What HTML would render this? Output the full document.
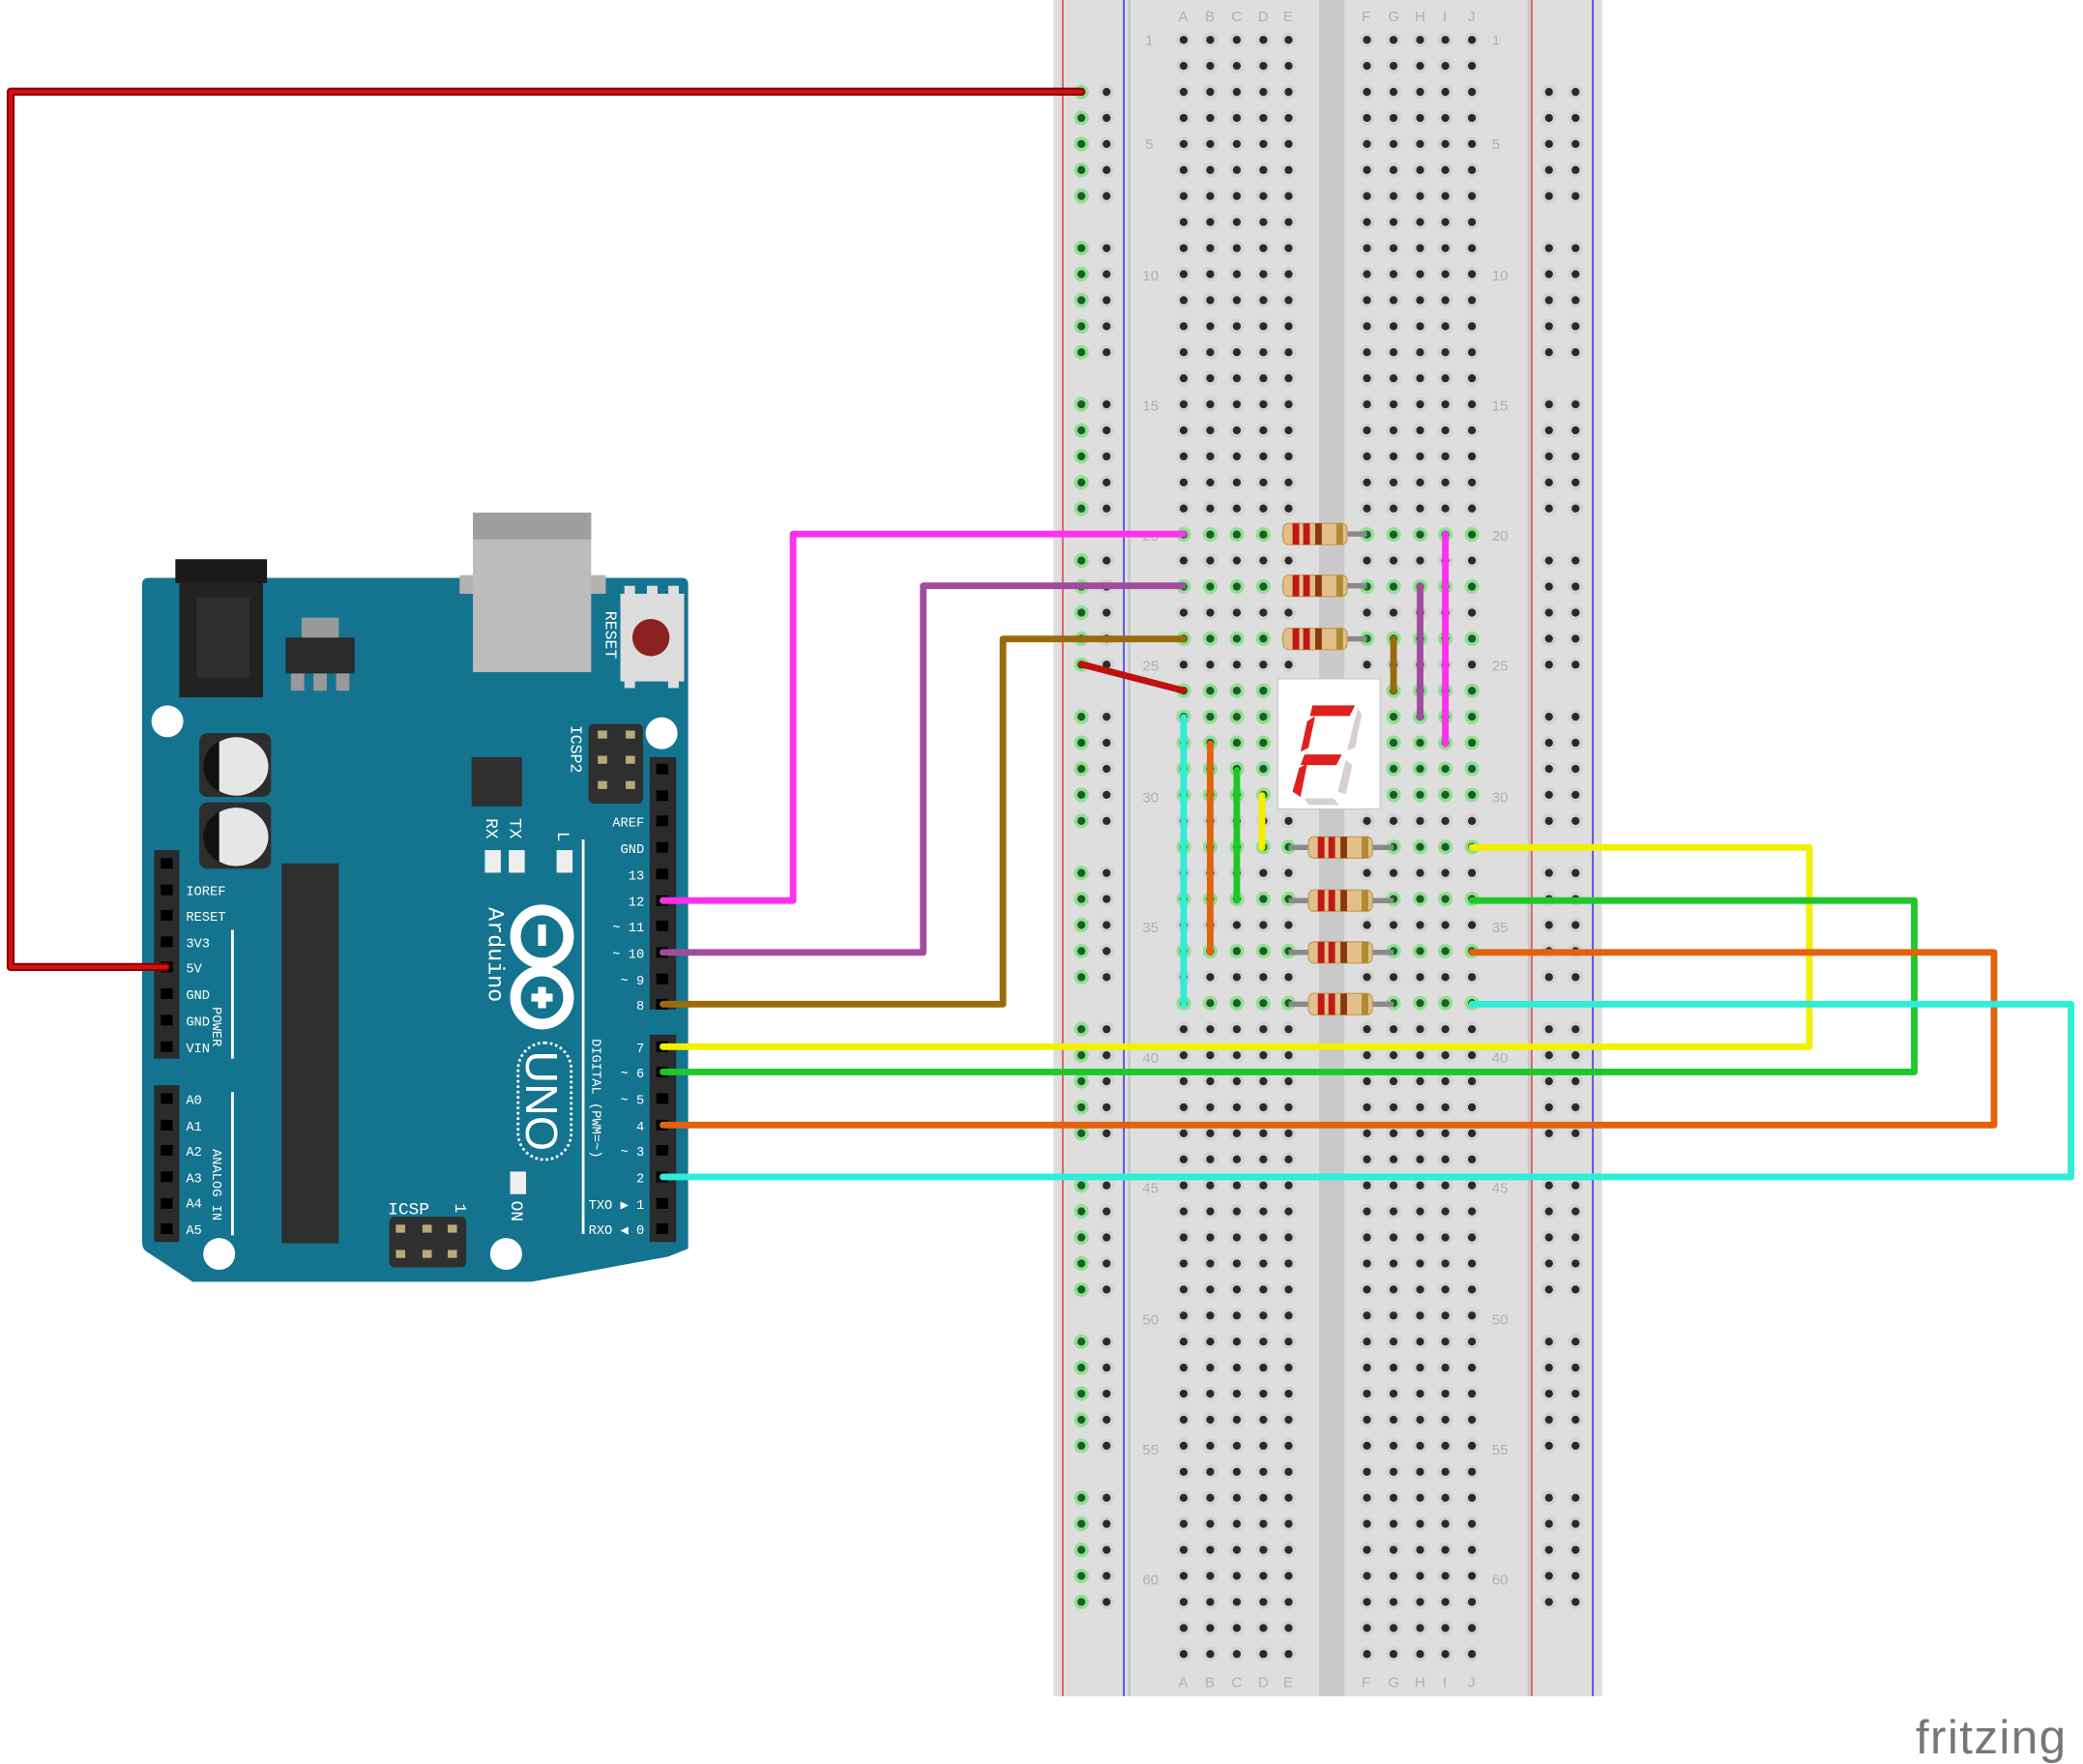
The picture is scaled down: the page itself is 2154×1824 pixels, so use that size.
<!DOCTYPE html>
<html><head><meta charset="utf-8">
<style>
html,body{margin:0;padding:0;background:#fff;}
svg{display:block;}
.t{font-family:"Liberation Mono","DejaVu Sans Mono",monospace;fill:#fff;font-size:10px;}
.bl{font-family:"Liberation Sans",sans-serif;fill:#b0b0b0;font-size:11px;}
</style></head><body>
<svg id="s" width="2154" height="1824" viewBox="0 0 1568 1328" preserveAspectRatio="none" xmlns="http://www.w3.org/2000/svg">
<!-- breadboard -->
<rect x="793" y="0" width="413" height="1277" fill="#dedede"/>
<rect x="993" y="0" width="19" height="1277" fill="#c9c9c9"/>
<line x1="850" y1="0" x2="850" y2="1277" stroke="#c8c8c8" stroke-width="2"/>
<line x1="1151" y1="0" x2="1151" y2="1277" stroke="#c8c8c8" stroke-width="2"/>
<line x1="800" y1="0" x2="800" y2="1277" stroke="#e03030" stroke-width="1"/>
<line x1="846" y1="0" x2="846" y2="1277" stroke="#2020e0" stroke-width="1"/>
<line x1="1153" y1="0" x2="1153" y2="1277" stroke="#e03030" stroke-width="1"/>
<line x1="1199" y1="0" x2="1199" y2="1277" stroke="#2020e0" stroke-width="1"/>
<g id="holes"></g>
<g class="bl">
<text x="887" y="16">A</text><text x="907" y="16">B</text><text x="927" y="16">C</text><text x="947" y="16">D</text><text x="966" y="16">E</text>
<text x="1025" y="16">F</text><text x="1045" y="16">G</text><text x="1065" y="16">H</text><text x="1086" y="16">I</text><text x="1105" y="16">J</text>
<text x="887" y="1270">A</text><text x="907" y="1270">B</text><text x="927" y="1270">C</text><text x="947" y="1270">D</text><text x="966" y="1270">E</text>
<text x="1025" y="1270">F</text><text x="1045" y="1270">G</text><text x="1065" y="1270">H</text><text x="1086" y="1270">I</text><text x="1105" y="1270">J</text>
<text x="862" y="34">1</text><text x="862" y="112">5</text><text x="860" y="211">10</text><text x="860" y="309">15</text><text x="860" y="407">20</text><text x="860" y="505">25</text><text x="860" y="604">30</text><text x="860" y="702">35</text><text x="860" y="800">40</text><text x="860" y="898">45</text><text x="860" y="997">50</text><text x="860" y="1095">55</text><text x="860" y="1193">60</text>
<text x="1123" y="34">1</text><text x="1123" y="112">5</text><text x="1123" y="211">10</text><text x="1123" y="309">15</text><text x="1123" y="407">20</text><text x="1123" y="505">25</text><text x="1123" y="604">30</text><text x="1123" y="702">35</text><text x="1123" y="800">40</text><text x="1123" y="898">45</text><text x="1123" y="997">50</text><text x="1123" y="1095">55</text><text x="1123" y="1193">60</text>
</g>

<!-- Arduino -->
<path d="M112,435 H513 Q518,435 518,440 V940 L503,946 L400,965 H145 L110,942 Q107,940 107,935 V440 Q107,435 112,435 Z" fill="#14748f"/>
<rect x="346" y="433" width="110" height="14" fill="#b3b3b3"/>
<rect x="356" y="386" width="89" height="120" fill="#bcbcbc"/>
<rect x="356" y="386" width="89" height="20" fill="#9e9e9e"/>
<rect x="132" y="421" width="69" height="18" fill="#1a1a1a"/>
<rect x="135" y="439" width="63" height="86" fill="#222"/>
<rect x="148" y="450" width="40" height="60" fill="#2e2e2e"/>
<rect x="227" y="465" width="28" height="16" fill="#999"/>
<rect x="215" y="480" width="52" height="27" fill="#2a2a2a"/>
<rect x="219" y="507" width="10" height="13" fill="#999"/><rect x="236" y="507" width="10" height="13" fill="#999"/><rect x="253" y="507" width="10" height="13" fill="#999"/>
<rect x="467" y="447" width="48" height="66" fill="#ddd"/>
<rect x="470" y="441" width="8" height="8" fill="#ddd"/><rect x="487" y="441" width="8" height="8" fill="#ddd"/><rect x="503" y="441" width="8" height="8" fill="#ddd"/>
<rect x="470" y="512" width="8" height="6" fill="#ddd"/><rect x="503" y="512" width="8" height="6" fill="#ddd"/>
<circle cx="490" cy="480" r="14" fill="#8b2222"/>
<text class="t" transform="translate(456,460) rotate(90)" style="font-size:12px">RESET</text>
<circle cx="126" cy="543" r="12" fill="#fff"/><circle cx="498" cy="552" r="12" fill="#fff"/>
<circle cx="165" cy="944" r="12" fill="#fff"/><circle cx="381" cy="944" r="12" fill="#fff"/>
<rect x="150" y="552" width="54" height="48" rx="6" fill="#2d2d2d"/>
<rect x="150" y="604" width="54" height="50" rx="6" fill="#2d2d2d"/>
<ellipse cx="178" cy="577" rx="24" ry="22" fill="#e6e6e6"/><path d="M165,558 A24,22 0 0 0 165,596 Z" fill="#111"/>
<ellipse cx="178" cy="630" rx="24" ry="22" fill="#e6e6e6"/><path d="M165,611 A24,22 0 0 0 165,649 Z" fill="#111"/>
<rect x="212" y="650" width="43" height="286" fill="#2f2f2f"/>
<rect x="355" y="570" width="38" height="37" fill="#2f2f2f"/>
<rect x="443" y="545" width="41" height="60" rx="4" fill="#2f2f2f"/>
<rect x="450" y="550" width="7" height="6" fill="#b9a97a"/><rect x="471" y="550" width="7" height="6" fill="#b9a97a"/>
<rect x="450" y="569" width="7" height="6" fill="#b9a97a"/><rect x="471" y="569" width="7" height="6" fill="#b9a97a"/>
<rect x="450" y="588" width="7" height="6" fill="#b9a97a"/><rect x="471" y="588" width="7" height="6" fill="#b9a97a"/>
<text class="t" transform="translate(430,546) rotate(90)" style="font-size:12px">ICSP2</text>
<rect x="293" y="916" width="58" height="38" rx="4" fill="#2f2f2f"/>
<rect x="298" y="922" width="7" height="6" fill="#b9a97a"/><rect x="318" y="922" width="7" height="6" fill="#b9a97a"/><rect x="337" y="922" width="7" height="6" fill="#b9a97a"/>
<rect x="298" y="941" width="7" height="6" fill="#b9a97a"/><rect x="318" y="941" width="7" height="6" fill="#b9a97a"/><rect x="337" y="941" width="7" height="6" fill="#b9a97a"/>
<text class="t" x="292" y="914" style="font-size:13px">ICSP</text>
<text class="t" transform="translate(343,906) rotate(90)" style="font-size:12px">1</text>
<rect x="365" y="640" width="12" height="17" fill="#eee"/><rect x="383" y="640" width="12" height="17" fill="#eee"/><rect x="419" y="640" width="12" height="17" fill="#eee"/><rect x="384" y="882" width="12" height="17" fill="#eee"/>
<text class="t" transform="translate(366,616) rotate(90)" style="font-size:13px">RX</text>
<text class="t" transform="translate(384,616) rotate(90)" style="font-size:13px">TX</text>
<text class="t" transform="translate(420,626) rotate(90)" style="font-size:13px">L</text>
<text class="t" transform="translate(385,904) rotate(90)" style="font-size:13px">ON</text>
<line x1="439" y1="632" x2="439" y2="929" stroke="#fff" stroke-width="2"/>
<line x1="175" y1="700" x2="175" y2="797" stroke="#fff" stroke-width="2"/>
<line x1="175" y1="822" x2="175" y2="930" stroke="#fff" stroke-width="2"/>
<!-- logo -->
<circle cx="408" cy="705" r="20" fill="none" stroke="#fff" stroke-width="8"/>
<circle cx="408" cy="751" r="20" fill="none" stroke="#fff" stroke-width="8"/>
<rect x="405" y="696" width="6" height="16" fill="#fff"/>
<rect x="405" y="743" width="6" height="16" fill="#fff"/><rect x="400" y="748" width="16" height="6" fill="#fff"/>
<text class="t" transform="translate(368,683) rotate(90)" style="font-size:17px">Arduino</text>
<rect x="390" y="785" width="40" height="88" rx="20" fill="none" stroke="#fff" stroke-width="2" stroke-dasharray="2,2"/>
<text class="t" transform="translate(396,791) rotate(90)" style="font-size:34px;font-family:'Liberation Sans',sans-serif">UNO</text>
<text class="t" transform="translate(446,782) rotate(90)" style="font-size:10px">DIGITAL (PWM=~)</text>
<text class="t" transform="translate(160,758) rotate(90)">POWER</text>
<text class="t" transform="translate(160,865) rotate(90)">ANALOG IN</text>
<!-- headers -->
<rect x="489" y="570" width="20" height="190" fill="#2b2b2b"/>
<rect x="489" y="779" width="20" height="156" fill="#2b2b2b"/>
<rect x="116" y="640" width="19" height="157" fill="#2b2b2b"/>
<rect x="116" y="817" width="19" height="118" fill="#2b2b2b"/>
<g id="pins"></g>
<g class="t" text-anchor="end">
<text x="485" y="622">AREF</text><text x="485" y="642">GND</text><text x="485" y="662">13</text><text x="485" y="682">12</text><text x="485" y="701">~ 11</text><text x="485" y="721">~ 10</text><text x="485" y="741">~ 9</text><text x="485" y="760">8</text>
<text x="485" y="792">7</text><text x="485" y="811">~ 6</text><text x="485" y="831">~ 5</text><text x="485" y="851">4</text><text x="485" y="870">~ 3</text><text x="485" y="890">2</text><text x="485" y="910">TXO ▶ 1</text><text x="485" y="929">RXO ◀ 0</text>
</g>
<g class="t">
<text x="140" y="674">IOREF</text><text x="140" y="693">RESET</text><text x="140" y="713">3V3</text><text x="140" y="732">5V</text><text x="140" y="752">GND</text><text x="140" y="772">GND</text><text x="140" y="792">VIN</text>
<text x="140" y="831">A0</text><text x="140" y="851">A1</text><text x="140" y="870">A2</text><text x="140" y="890">A3</text><text x="140" y="909">A4</text><text x="140" y="929">A5</text>
</g>

<!-- resistors -->
<g id="res"></g>
<!-- 7 segment -->
<rect x="962" y="511" width="77" height="98" fill="#fff" stroke="#ccc"/>
<g fill="#e02020">
<polygon points="988,531 1020,531 1016,539 986,539"/>
<polygon points="984,543 990,539 985,563 979,566"/>
<polygon points="982,568 1010,568 1006,576 979,576"/>
<polygon points="978,578 984,575 979,600 973,596"/>
</g>
<g fill="#d8d0d0">
<polygon points="1022,533 1025,538 1020,563 1014,565"/>
<polygon points="1013,572 1018,576 1013,598 1007,596"/>
<polygon points="982,601 1004,601 1008,606 985,606"/>
</g>

<!-- wires -->
<g fill="none" stroke-linejoin="round" stroke-linecap="round">
<polyline points="814,69 8,69 8,728 125,728" stroke="#8a0000" stroke-width="6"/>
<polyline points="814,69 8,69 8,728 125,728" stroke="#d41010" stroke-width="3"/>
<polyline points="499,678 597,678 597,402 891,402" stroke="#ff30ee" stroke-width="5"/>
<polyline points="499,717 695,717 695,441 891,441" stroke="#a04c9c" stroke-width="5"/>
<polyline points="499,756 755,756 755,481 891,481" stroke="#9a6a0c" stroke-width="5"/>
<polyline points="499,788 1362,788 1362,638 1108,638" stroke="#f2f000" stroke-width="5"/>
<polyline points="499,807 1441,807 1441,678 1108,678" stroke="#1fc82a" stroke-width="5"/>
<polyline points="499,847 1501,847 1501,717 1108,717" stroke="#e2620e" stroke-width="5"/>
<polyline points="499,886 1559,886 1559,756 1108,756" stroke="#30ecd8" stroke-width="5"/>
<line x1="814" y1="500" x2="891" y2="520" stroke="#c01010" stroke-width="5"/>
<line x1="891" y1="540" x2="891" y2="756" stroke="#30ecd8" stroke-width="5"/>
<line x1="911" y1="560" x2="911" y2="717" stroke="#e2620e" stroke-width="5"/>
<line x1="931" y1="580" x2="931" y2="678" stroke="#1fc82a" stroke-width="5"/>
<line x1="950" y1="599" x2="950" y2="638" stroke="#f2f000" stroke-width="5"/>
<line x1="1049" y1="481" x2="1049" y2="520" stroke="#9a6a0c" stroke-width="5"/>
<line x1="1069" y1="441" x2="1069" y2="540" stroke="#a04c9c" stroke-width="5"/>
<line x1="1088" y1="402" x2="1088" y2="560" stroke="#ff30ee" stroke-width="5"/>
</g>
<text x="1442" y="1320" font-family="Liberation Sans,sans-serif" font-size="36" fill="#777" letter-spacing="1">fritzing</text>
</svg>
<script>
var NS="http://www.w3.org/2000/svg";
function el(p,n,a){var e=document.createElementNS(NS,n);for(var k in a)e.setAttribute(k,a[k]);p.appendChild(e);return e;}
var H=document.getElementById("holes");
var ry=function(r){return 30+(r-1)*19.6;};
var gRows={20:1,22:1,24:1,26:1,27:1,28:1,29:1,30:1,32:1,34:1,36:1,38:1};
var L=[891,911,931,951,970],R=[1029,1049,1069,1088,1108];
for(var r=1;r<=63;r++){var y=ry(r);
 L.concat(R).forEach(function(x){
  if(gRows[r])el(H,"circle",{cx:x,cy:y,r:5.5,fill:"#8fe08f"});
  else el(H,"circle",{cx:x,cy:y,r:5.5,fill:"#d2d2d2"});
  el(H,"circle",{cx:x,cy:y,r:3,fill:gRows[r]?"#1f5a2a":"#2a2a2a"});});}
for(var r=3;r<=61;r++){if((r-3)%6==5)continue;var y=ry(r);
 [[814,1],[833,0],[1166,0],[1186,0]].forEach(function(p){
  el(H,"circle",{cx:p[0],cy:y,r:5.5,fill:p[1]?"#8fe08f":"#d2d2d2"});
  el(H,"circle",{cx:p[0],cy:y,r:3,fill:p[1]?"#1f5a2a":"#2a2a2a"});});}
var P=document.getElementById("pins");
[579,599,618,638,658,678,697,717,737,756,788,807,827,847,866,886,906,925].forEach(function(y){el(P,"rect",{x:494,y:y-4,width:9,height:8,fill:"#000"});});
[650,670,689,709,728,748,768,788,827,847,866,886,906,925].forEach(function(y){el(P,"rect",{x:121,y:y-4,width:9,height:8,fill:"#000"});});
var RG=document.getElementById("res");
function res(x1,x2,y,bx){el(RG,"line",{x1:x1,y1:y,x2:x2,y2:y,stroke:"#8a8a8a","stroke-width":4});
 el(RG,"rect",{x:bx,y:y-8,width:48,height:16,rx:4,fill:"#e3c08a",stroke:"#c9a060"});
 [[bx+7,"#c01818"],[bx+15,"#c01818"],[bx+24,"#8a3a0a"],[bx+40,"#b08a30"]].forEach(function(b){el(RG,"rect",{x:b[0],y:y-8,width:5,height:16,fill:b[1]});});}
[402,441,481].forEach(function(y){res(970,1029,y,966);});
[638,678,717,756].forEach(function(y){res(970,1049,y,985);});
</script>
</body></html>
